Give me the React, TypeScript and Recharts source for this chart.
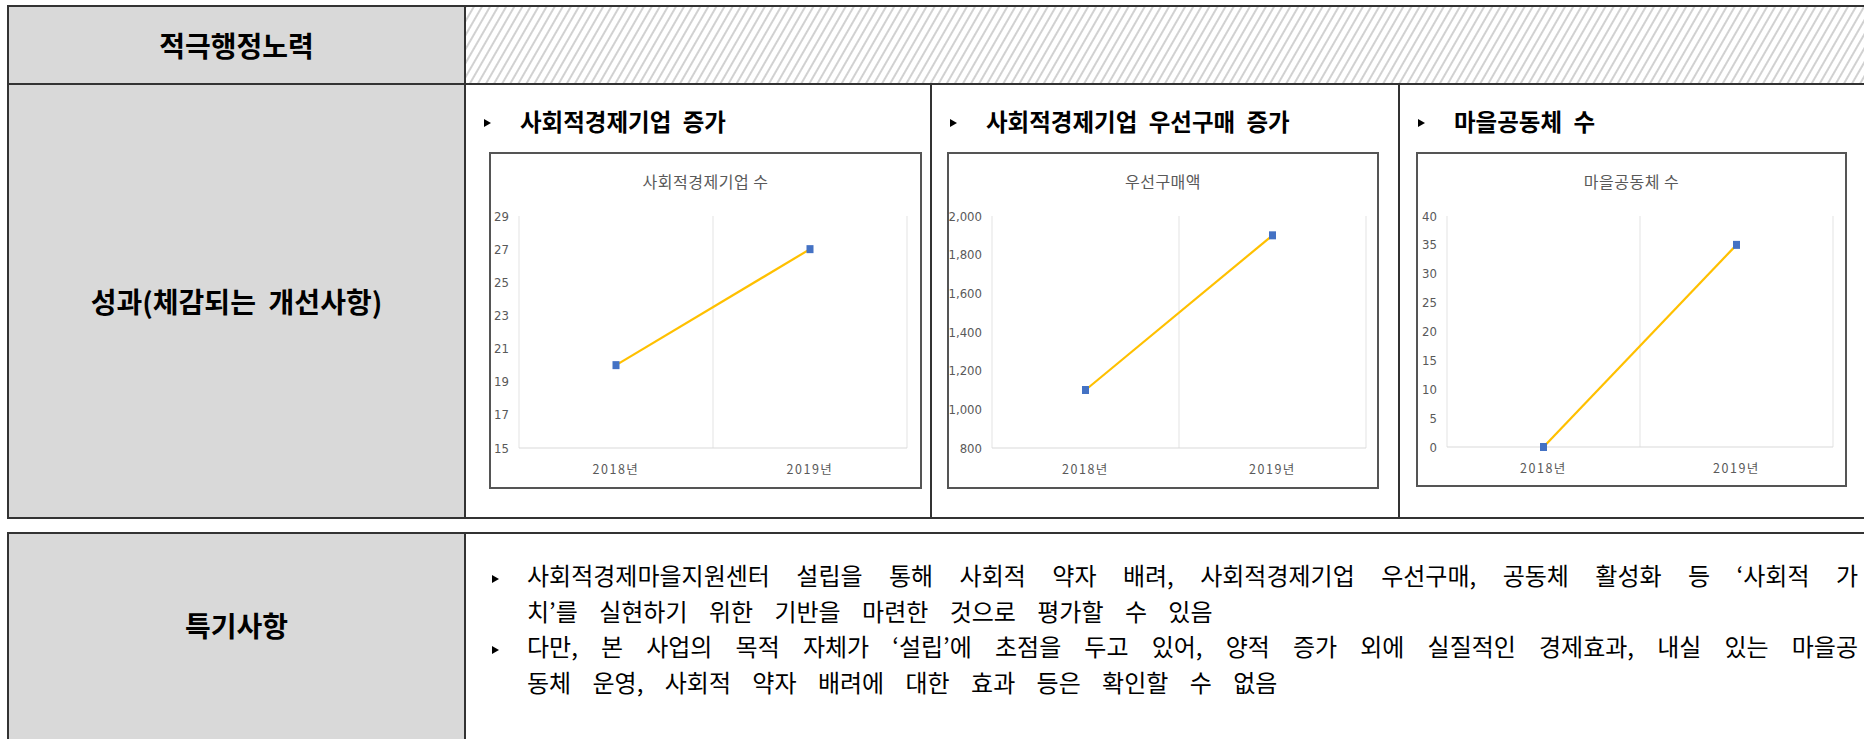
import React from 'react';
import { LineChart, Line, XAxis, YAxis, CartesianGrid } from 'recharts';

// values
const years = ['2018년', '2019년'];
const enterpriseCounts = [20, 27];
const purchaseAmounts = [1100, 1900];
const communityCounts = [0, 35];

const enterpriseTicks = [15, 17, 19, 21, 23, 25, 27, 29];
const purchaseTicks = [800, 1000, 1200, 1400, 1600, 1800, 2000];
const communityTicks = [0, 5, 10, 15, 20, 25, 30, 35, 40];

const panelHeadings = ['사회적경제기업 증가', '사회적경제기업 우선구매 증가', '마을공동체 수'];
const chartTitles = ['사회적경제기업 수', '우선구매액', '마을공동체 수'];
const rowLabels = ['적극행정노력', '성과(체감되는  개선사항)', '특기사항'];
const noteLines = [
  '사회적경제마을지원센터 설립을 통해 사회적 약자 배려, 사회적경제기업 우선구매, 공동체 활성화 등 ‘사회적 가',
  '치’를 실현하기 위한 기반을 마련한 것으로 평가할 수 있음',
  '다만, 본 사업의 목적 자체가 ‘설립’에 초점을 두고 있어, 양적 증가 외에 실질적인 경제효과, 내실 있는 마을공',
  '동체 운영, 사회적 약자 배려에 대한 효과 등은 확인할 수 없음',
];

const KR = "'Noto Sans CJK KR', 'Noto Sans', sans-serif";
const NARROW = "'Liberation Sans Narrow', 'DejaVu Sans Condensed', 'Noto Sans', sans-serif";
const LINE = '#333';
const GRAY_CELL = '#d9d9d9';
const AXIS_TEXT = '#595959';

const SquareDot = (props: any) => {
  const { cx, cy, index } = props;
  if (cx == null || cy == null) return <g key={index} />;
  return <rect key={index} x={cx - 3.5} y={cy - 4} width={7} height={8} fill="#4472C4" />;
};

interface Box { left: number; top: number; right: number; bottom: number }

function MiniChart({ box, plot, values, ticks, title, fmt }: {
  box: Box; plot: Box; values: number[]; ticks: number[]; title: string; fmt?: (v: number) => string;
}) {
  const data = years.map((year, i) => ({ year, value: values[i] }));
  const w = box.right - box.left;
  const h = box.bottom - box.top;
  const xAxisHeight = 30;
  return (
    <div style={{ position: 'absolute', left: box.left, top: box.top, width: w, height: h, background: '#fff', boxShadow: 'inset 0 0 0 2px #555' }}>
      <div style={{ position: 'absolute', left: 0, top: 19, width: w, height: 20, lineHeight: '20px', textAlign: 'center', fontFamily: KR, fontSize: 16, letterSpacing: 0.5, color: AXIS_TEXT }}>
        {title}
      </div>
      <div style={{ position: 'absolute', left: 0, top: 0 }}>
        <LineChart
          width={w}
          height={h}
          data={data}
          margin={{ top: plot.top - box.top, right: box.right - plot.right, left: 0, bottom: box.bottom - plot.bottom - xAxisHeight }}
        >
          <CartesianGrid
            horizontal={false}
            stroke="#e3e3e3"
            verticalCoordinatesGenerator={({ offset }: any) => [offset.left, offset.left + offset.width / 2, offset.left + offset.width]}
          />
          <XAxis
            dataKey="year"
            scale="band"
            interval={0}
            height={xAxisHeight}
            tickLine={false}
            tickSize={0}
            tickMargin={17}
            axisLine={{ stroke: '#d9d9d9' }}
            tick={{ fill: AXIS_TEXT, fontSize: 12.5, fontFamily: KR, letterSpacing: 1.5 }}
          />
          <YAxis
            width={plot.left - box.left}
            domain={[ticks[0], ticks[ticks.length - 1]]}
            ticks={ticks}
            interval={0}
            axisLine={false}
            tickLine={false}
            tickSize={0}
            tickMargin={10}
            tickFormatter={fmt}
            tick={{ fill: AXIS_TEXT, fontSize: 13, fontFamily: NARROW }}
          />
          <Line
            dataKey="value"
            stroke="#FFC000"
            strokeWidth={2.2}
            dot={SquareDot}
            activeDot={false}
            isAnimationActive={false}
          />
        </LineChart>
      </div>
    </div>
  );
}

const hLine = (x1: number, x2: number, y: number, key: string) => (
  <div key={key} style={{ position: 'absolute', left: x1, top: y - 1, width: x2 - x1, height: 2, background: LINE }} />
);
const vLine = (x: number, y1: number, y2: number, key: string) => (
  <div key={key} style={{ position: 'absolute', left: x - 1, top: y1, width: 2, height: y2 - y1, background: LINE }} />
);

const Arrow = ({ x, y }: { x: number; y: number }) => (
  <svg style={{ position: 'absolute', left: x - 3, top: y - 4 }} width={7} height={8}>
    <polygon points="0,0 7,4 0,8" fill="#000" />
  </svg>
);

export default function App() {
  const W = 1864;
  const H = 739;
  const boxes: Box[] = [
    { left: 489, top: 152, right: 922, bottom: 489 },
    { left: 947, top: 152, right: 1379, bottom: 489 },
    { left: 1416, top: 152, right: 1847, bottom: 487 },
  ];
  const plots: Box[] = [
    { left: 519, top: 216, right: 907, bottom: 448 },
    { left: 992, top: 216, right: 1366, bottom: 448 },
    { left: 1447, top: 216, right: 1833, bottom: 447 },
  ];
  const panelStarts = [465, 931, 1399];
  const noteTops = [557, 593, 628, 664];
  const labelStyle: React.CSSProperties = {
    position: 'absolute', left: 8, width: 457, display: 'flex', alignItems: 'center', justifyContent: 'center',
    fontSize: 28, fontWeight: 700, whiteSpace: 'pre',
  };

  return (
    <div style={{ position: 'absolute', left: 0, top: 0, width: W, height: H, overflow: 'hidden', background: '#fff', fontFamily: KR }}>
      {/* gray label column */}
      <div style={{ position: 'absolute', left: 8, top: 6, width: 457, height: 512, background: GRAY_CELL }} />
      <div style={{ position: 'absolute', left: 8, top: 533, width: 457, height: H - 533, background: GRAY_CELL }} />

      {/* hatched cell */}
      <svg style={{ position: 'absolute', left: 465, top: 6 }} width={W - 465} height={78}>
        <defs>
          <pattern id="hatch" patternUnits="userSpaceOnUse" width={7} height={8} patternTransform="rotate(30)">
            <line x1={1} y1={0} x2={1} y2={8} stroke="#a3a3a3" strokeWidth={1} />
          </pattern>
        </defs>
        <rect x={0} y={0} width={W - 465} height={78} fill="url(#hatch)" />
      </svg>

      {/* row labels */}
      <div style={{ ...labelStyle, top: 6, height: 78 }}>{rowLabels[0]}</div>
      <div style={{ ...labelStyle, top: 84, height: 434 }}>{rowLabels[1]}</div>
      <div style={{ ...labelStyle, top: 533, height: 184 }}>{rowLabels[2]}</div>

      {/* panel headings */}
      {panelHeadings.map((t, i) => (
        <React.Fragment key={t}>
          <Arrow x={panelStarts[i] + 22} y={123} />
          <div style={{ position: 'absolute', left: panelStarts[i] + 55, top: 106, height: 30, lineHeight: '30px', fontSize: 23.5, fontWeight: 700, whiteSpace: 'pre', wordSpacing: 6 }}>{t}</div>
        </React.Fragment>
      ))}

      {/* charts */}
      <MiniChart box={boxes[0]} plot={plots[0]} values={enterpriseCounts} ticks={enterpriseTicks} title={chartTitles[0]} />
      <MiniChart box={boxes[1]} plot={plots[1]} values={purchaseAmounts} ticks={purchaseTicks} title={chartTitles[1]} fmt={(v) => v.toLocaleString('en-US')} />
      <MiniChart box={boxes[2]} plot={plots[2]} values={communityCounts} ticks={communityTicks} title={chartTitles[2]} />

      {/* notes */}
      <Arrow x={495} y={579} />
      <Arrow x={495} y={650} />
      {noteLines.map((t, i) => (
        <div
          key={i}
          style={{
            position: 'absolute', left: 527, top: noteTops[i], width: 1331, height: 36, lineHeight: '36px',
            fontSize: 24, whiteSpace: 'nowrap',
            ...(i % 2 === 0 ? { textAlign: 'justify' as const, textAlignLast: 'justify' as const, whiteSpace: 'normal' as const } : { wordSpacing: 16 }),
          }}
        >
          {t}
        </div>
      ))}

      {/* table lines */}
      {hLine(7, W, 6, 't1')}
      {hLine(7, W, 84, 't2')}
      {hLine(7, W, 518, 't3')}
      {vLine(8, 5, 519, 'l1')}
      {vLine(465, 5, 519, 'l2')}
      {vLine(931, 84, 519, 'l3')}
      {vLine(1399, 84, 519, 'l4')}
      {hLine(7, W, 533, 'b1')}
      {vLine(8, 532, H, 'b2')}
      {vLine(465, 532, H, 'b3')}
    </div>
  );
}
